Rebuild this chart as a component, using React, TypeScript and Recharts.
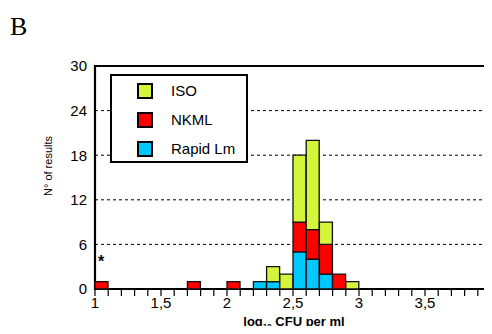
import {
  BarChart,
  Bar,
  XAxis,
  YAxis,
  CartesianGrid,
  ReferenceArea,
} from "recharts";

// bins of 0.1 log10 CFU/ml, named by their lower edge
const bins = [
  "1.0", "1.1", "1.2", "1.3", "1.4", "1.5", "1.6", "1.7", "1.8", "1.9",
  "2.0", "2.1", "2.2", "2.3", "2.4", "2.5", "2.6", "2.7", "2.8", "2.9",
  "3.0", "3.1", "3.2", "3.3", "3.4", "3.5", "3.6", "3.7", "3.8", "3.9",
];
const rapidLm = [0, 0, 0, 0, 0, 0, 0, 0, 0, 0, 0, 0, 1, 1, 0, 5, 4, 2, 0, 0, 0, 0, 0, 0, 0, 0, 0, 0, 0, 0];
const nkml = [1, 0, 0, 0, 0, 0, 0, 1, 0, 0, 1, 0, 0, 0, 0, 4, 4, 4, 2, 0, 0, 0, 0, 0, 0, 0, 0, 0, 0, 0];
const iso = [0, 0, 0, 0, 0, 0, 0, 0, 0, 0, 0, 0, 0, 2, 2, 9, 12, 3, 0, 1, 0, 0, 0, 0, 0, 0, 0, 0, 0, 0];

// labels written at the left edge of these bins (plus the last right edge)
const xLabelBins = ["1.0", "1.5", "2.0", "2.5", "3.0", "3.5"];
const xLabels = ["1", "1,5", "2", "2,5", "3", "3,5"];
const xLastLabel = "4";
const yTicks = [0, 6, 12, 18, 24, 30];

const series = [
  { key: "rapid", name: "Rapid Lm", color: "#00c8ff" },
  { key: "nkml", name: "NKML", color: "#ff0000" },
  { key: "iso", name: "ISO", color: "#d4f53c" },
];

const data = bins.map((b, i) => ({
  bin: b,
  rapid: rapidLm[i],
  nkml: nkml[i],
  iso: iso[i],
}));

const FONT = "'Liberation Sans', Arial, sans-serif";

// tick at the left edge of each bin; the last bin also gets its right edge
function XTick(props: any) {
  const { x, y, payload } = props;
  const half = payload.offset || 0;
  const left = x - half;
  const idx = xLabelBins.indexOf(payload.value);
  const isLast = payload.value === bins[bins.length - 1];
  return (
    <g>
      <line x1={left} x2={left} y1={y - 7} y2={y} stroke="#000" strokeWidth={1.2} />
      {idx >= 0 && (
        <text x={left} y={y + 12} textAnchor="middle" fontSize={15} fill="#000" fontFamily={FONT}>
          {xLabels[idx]}
        </text>
      )}
      {isLast && (
        <>
          <line x1={x + half} x2={x + half} y1={y - 7} y2={y} stroke="#000" strokeWidth={1.2} />
          <text x={x + half - 3} y={y + 12} textAnchor="start" fontSize={15} fill="#000" fontFamily={FONT}>
            {xLastLabel}
          </text>
        </>
      )}
    </g>
  );
}

export default function App() {
  return (
    <div style={{ position: "relative", width: 492, height: 334, margin: -8, fontFamily: FONT, overflow: "hidden" }}>
      <div style={{ position: "absolute", left: 10, top: 12, fontFamily: "'Liberation Serif', 'Times New Roman', serif", fontSize: 26 }}>
        B
      </div>

      <BarChart
        width={492}
        height={334}
        data={data}
        margin={{ top: 66, right: 1, left: 55, bottom: 0 }}
        barCategoryGap={0}
        barGap={0}
      >
        <CartesianGrid horizontal vertical={false} stroke="#000" strokeDasharray="3 3" strokeWidth={1} />
        <XAxis
          dataKey="bin"
          interval={0}
          axisLine={false}
          tickLine={false}
          tickSize={7}
          tickMargin={0}
          height={45}
          tick={<XTick />}
        />
        <YAxis
          type="number"
          domain={[0, 30]}
          ticks={yTicks}
          interval={0}
          width={40}
          axisLine={false}
          tickLine={false}
          tickMargin={2}
          tick={{ fill: "#000", fontSize: 15, fontFamily: FONT }}
        />
        {series.map((s) => (
          <Bar
            key={s.key}
            dataKey={s.key}
            name={s.name}
            stackId="a"
            fill={s.color}
            stroke="#111"
            strokeWidth={1.3}
            isAnimationActive={false}
          />
        ))}
        <ReferenceArea
          x1={bins[0]}
          x2={bins[bins.length - 1]}
          y1={0}
          y2={30}
          fill="none"
          stroke="#000"
          strokeWidth={2.2}
          ifOverflow="visible"
        />
      </BarChart>

      {/* legend */}
      <div
        style={{
          position: "absolute",
          left: 110,
          top: 74,
          width: 134,
          height: 85,
          border: "2px solid #000",
          background: "#fff",
        }}
      >
        {[...series].reverse().map((s, i) => (
          <div key={s.key} style={{ position: "absolute", left: 25, top: 7 + i * 29, display: "flex", alignItems: "center" }}>
            <div style={{ width: 12, height: 12, background: s.color, border: "2px solid #000" }} />
            <span style={{ marginLeft: 18, fontSize: 15, lineHeight: "16px" }}>{s.name}</span>
          </div>
        ))}
      </div>

      <div style={{ position: "absolute", left: 98, top: 253, fontSize: 16, fontWeight: "bold" }}>*</div>

      <div
        style={{
          position: "absolute",
          left: 48,
          top: 166,
          transform: "translate(-50%, -50%) rotate(-90deg)",
          fontSize: 11,
          whiteSpace: "nowrap",
        }}
      >
        N° of results
      </div>

      <div
        style={{
          position: "absolute",
          left: 294,
          top: 314,
          transform: "translateX(-50%)",
          fontSize: 13,
          lineHeight: "15px",
          fontWeight: "bold",
          whiteSpace: "nowrap",
        }}
      >
        log<span style={{ fontSize: 8, verticalAlign: -3, lineHeight: 0 }}>10</span> CFU per ml
      </div>
    </div>
  );
}
